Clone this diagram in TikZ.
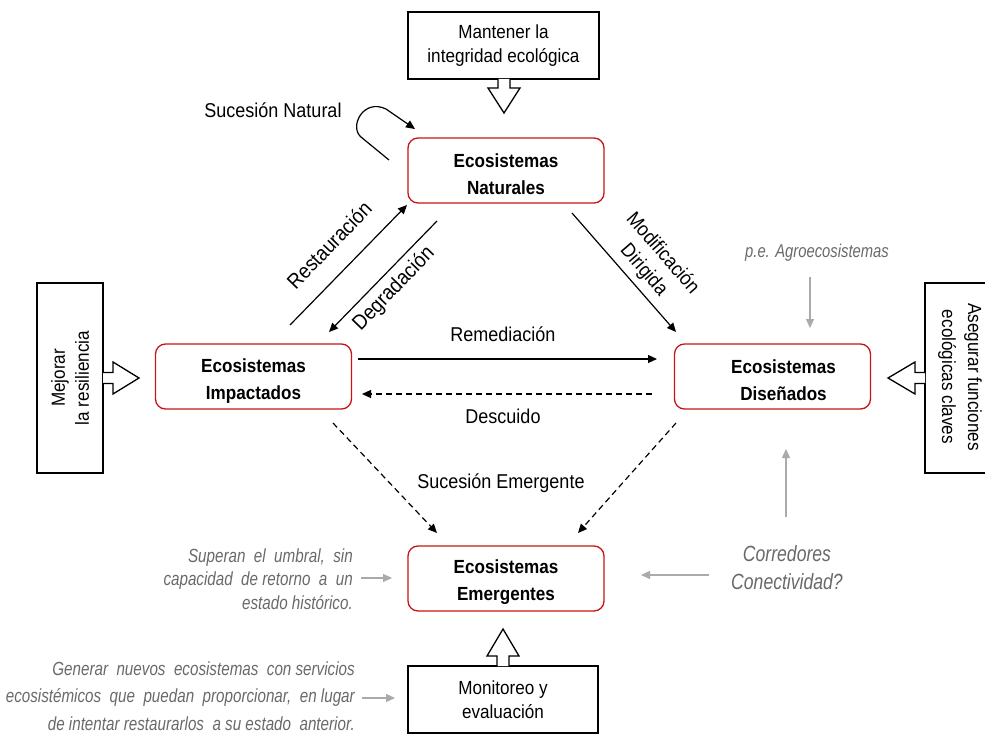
\documentclass[tikz,border=0pt]{standalone}
\usepackage{fontspec}
\setmainfont{Liberation Sans}[FakeStretch=0.9]
\newfontfamily\notefont{Liberation Sans}[FakeStretch=0.8]
\usetikzlibrary{arrows.meta}
\definecolor{ecored}{RGB}{200,20,20}
\definecolor{arrgray}{RGB}{170,170,170}
\definecolor{notegray}{RGB}{105,105,105}
\newcommand{\ecoup}{\rule{0pt}{22pt}}
\tikzset{
  eco/.style={draw=ecored, line width=1.3pt, rounded corners=10pt, minimum width=196pt, minimum height=65pt, align=center, inner sep=0pt, font=\fontsize{19}{27}\selectfont\bfseries},
  plainbox/.style={draw, line width=1.3pt, fill=white, align=center, inner sep=0pt, font=\fontsize{19}{23.5}\selectfont},
  lbl/.style={font=\fontsize{20}{25}\selectfont, align=center, inner sep=0pt},
  note/.style={font=\notefont\itshape\fontsize{18.5}{24}\selectfont, text=notegray, inner sep=0pt},
  conn/.style={line width=1.2pt, -{Triangle[length=9pt,width=8pt]}},
  dconn/.style={conn, dash pattern=on 6pt off 4pt},
  garrow/.style={draw=arrgray, line width=1.2pt, -{Triangle[length=9pt,width=8pt]}},
  blockarrow/.style={draw, line width=1.3pt, fill=white, line join=miter}
}
\begin{document}
\begin{tikzpicture}[x=1pt,y=-1pt]
\useasboundingbox (0,0) rectangle (985,735);

% ecosystem boxes
\node[eco] (nat) at (506,170.5) {\ecoup Ecosistemas\\Naturales};
\node[eco] (imp) at (253.5,376.5) {\ecoup Ecosistemas\\Impactados};
\node[eco] (dis) at (772.5,376.5) {\ecoup\hspace*{22pt}Ecosistemas\\\hspace*{22pt}Diseñados};
\node[eco] (emg) at (506,578.5) {\ecoup Ecosistemas\\Emergentes};

% side boxes
\node[plainbox, minimum width=191pt, minimum height=67pt] (mant) at (503.5,45.5) {Mantener la\\integridad ecológica};
\node[plainbox, minimum width=190pt, minimum height=67pt, font=\fontsize{19}{24}\selectfont] (mon) at (503,699.5) {Monitoreo y\\evaluación};
\node[plainbox, rotate=90, minimum width=190pt, minimum height=66pt, font=\fontsize{19}{24}\selectfont] (mej) at (70,378) {Mejorar\\la resiliencia};
\draw[line width=1.3pt] (990,283) -- (925,283) -- (925,473) -- (990,473);
\node[lbl, rotate=-90, font=\fontsize{19}{26}\selectfont] (ase) at (960,377) {Asegurar funciones\\ecológicas claves};

% block arrows
\draw[blockarrow] (498,79) -- (498,88) -- (488,88) -- (504,113) -- (520,88) -- (510,88) -- (510,79);
\draw[blockarrow] (497,666) -- (497,656) -- (487,656) -- (503,629) -- (519,656) -- (509,656) -- (509,666);
\draw[blockarrow] (103,372.5) -- (113,372.5) -- (113,362) -- (139,378) -- (113,394) -- (113,383.5) -- (103,383.5);
\draw[blockarrow] (925,372.5) -- (915,372.5) -- (915,362) -- (888,378) -- (915,394) -- (915,383.5) -- (925,383.5);

% free ends of connectors
\coordinate (sn1) at (389,160);
\coordinate (sn2) at (415,129);
\coordinate (res1) at (290,325);
\coordinate (res2) at (407,205);
\coordinate (deg1) at (437,221);
\coordinate (deg2) at (329,332);
\coordinate (mod1) at (572,213);
\coordinate (mod2) at (676,332);
\coordinate (rem1) at (358,359);
\coordinate (rem2) at (657,359);
\coordinate (des1) at (652,394);
\coordinate (des2) at (362,394);
\coordinate (se1) at (333,423);
\coordinate (se2) at (437,533);
\coordinate (se3) at (676,423);
\coordinate (se4) at (578,533);

% connectors
\draw[conn] (sn1) -- (361,137) .. controls (349,127) and (363,98) .. (386,109) -- (sn2);
\draw[conn] (res1) -- (res2);
\draw[conn] (deg1) -- (deg2);
\draw[conn] (mod1) -- (mod2);
\draw[conn] (rem1) -- (rem2);
\draw[dconn] (des1) -- (des2);
\draw[dconn] (se1) -- (se2);
\draw[dconn] (se3) -- (se4);

% labels
\node[lbl] (lsn) at (273,110) {Sucesión Natural};
\node[lbl, rotate=46, font=\fontsize{21}{25}\selectfont] (lres) at (329,245) {Restauración};
\node[lbl, rotate=46, font=\fontsize{21}{25}\selectfont] (ldeg) at (394,289) {Degradación};
\node[lbl, rotate=-49, font=\fontsize{20}{25}\selectfont] (lmod) at (653,262) {Modificación\\Dirigida};
\node[lbl] (lrem) at (503,334) {Remediación};
\node[lbl] (ldes) at (503,416) {Descuido};
\node[lbl] (lse) at (501,483) {Sucesión Emergente};

% gray notes
\node[note] (agro) at (817,253) {p.e. Agroecosistemas};
\coordinate (ag1) at (810,277);
\coordinate (ag2) at (810,328);
\draw[garrow] (ag1) -- (ag2);

\node[note, font=\notefont\itshape\fontsize{22}{28}\selectfont, align=center] (corr) at (787,568) {Corredores\\Conectividad?};
\coordinate (co1) at (786,517);
\coordinate (co2) at (786,449);
\coordinate (co3) at (709,575);
\coordinate (co4) at (641,575);
\draw[garrow] (co1) -- (co2);
\draw[garrow] (co3) -- (co4);

\node[note, anchor=east, align=right, font=\notefont\itshape\fontsize{19}{23.5}\selectfont] (sup) at (353,579) {Superan\ \ el\ \ umbral,\ \ sin\\capacidad\ \ de retorno\ \ a\ \ un\\estado histórico.};
\coordinate (su1) at (361,578);
\coordinate (su2) at (392,578);
\draw[garrow] (su1) -- (su2);

\node[note, anchor=east, align=right, font=\notefont\itshape\fontsize{19}{27.5}\selectfont] (gen) at (355,696) {Generar\ \ nuevos\ \ ecosistemas\ \ con servicios\\ecosistémicos\ \ que\ \ puedan\ \ proporcionar,\ \ en lugar\\de intentar restaurarlos\ \ a su estado\ \ anterior.};
\coordinate (ge1) at (362,698);
\coordinate (ge2) at (395,698);
\draw[garrow] (ge1) -- (ge2);
\end{tikzpicture}
\end{document}
